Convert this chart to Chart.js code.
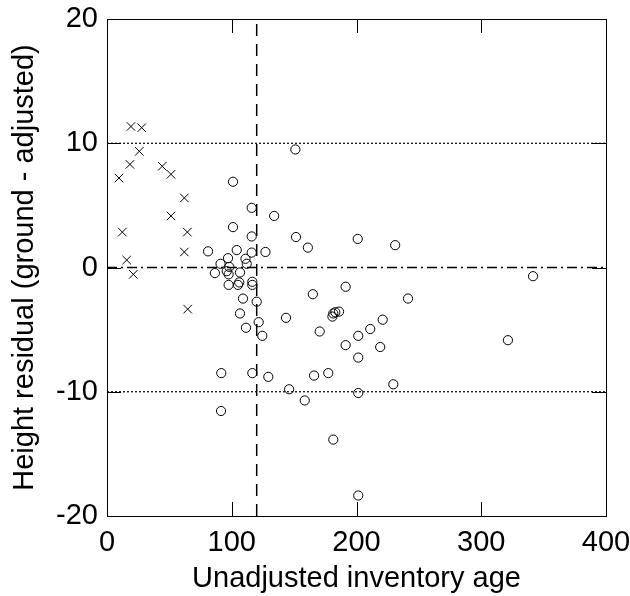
<!DOCTYPE html>
<html>
<head>
<meta charset="utf-8">
<script src="https://cdn.jsdelivr.net/npm/chart.js@4/dist/chart.umd.min.js"></script>
<style>
  html, body { margin: 0; padding: 0; background: #fff; }
  #wrap { width: 630px; height: 596px; }
</style>
</head>
<body>
<div id="wrap"><canvas id="myChart" width="630" height="596"></canvas></div>
<script>
// unadjusted inventory age vs height residual, circles
var circAge = [101, 116, 134, 101, 116, 151, 151.5, 161, 201, 231,
               81, 104, 116, 127, 97, 111, 112, 91, 98, 86.5,
               96, 97.5, 106.6, 106, 97.5, 105, 116.5, 116.5, 109, 120,
               106.6, 121.6, 111.4, 124.5, 91.6, 116.5, 129.3, 91.4, 146, 158.5,
               166, 143.5, 170.5, 165, 191.3, 181.4, 183, 186, 180.7, 221,
               211, 201.4, 191.3, 219, 201.4, 177.4, 229.5, 201.4, 181.4, 201.4,
               341.5, 241.3, 321.4];
var circResid = [6.9, 4.8, 4.15, 3.25, 2.5, 9.5, 2.45, 1.6, 2.3, 1.8,
                 1.3, 1.4, 1.2, 1.25, 0.75, 0.7, 0.3, 0.3, 0.05, -0.45,
                 -0.3, -0.55, -0.4, -1.2, -1.4, -1.4, -1.15, -1.4, -2.5, -2.75,
                 -3.7, -4.4, -4.85, -5.5, -8.5, -8.5, -8.8, -11.55, -9.8, -10.7,
                 -8.7, -4.05, -5.15, -2.15, -1.55, -3.7, -3.6, -3.55, -3.95, -4.2,
                 -4.95, -5.5, -6.25, -6.4, -7.25, -8.5, -9.4, -10.1, -13.85, -18.35,
                 -0.7, -2.5, -5.85];

// crosses
var crossAge = [19.2, 27.8, 25.9, 18.4, 9.6, 44.3, 51.3, 62, 51.3, 12.3, 64.4, 62, 15.8, 21.1, 64.7];
var crossResid = [11.35, 11.25, 9.35, 8.3, 7.2, 8.15, 7.5, 5.6, 4.15, 2.85, 2.85, 1.25, 0.6, -0.55, -3.35];

var xTicks = [0, 100, 200, 300, 400];
var yTicks = [-20, -10, 0, 10, 20];
var cutoffAge = 120;
var zeroResid = 0;
var bandResid = [10, -10];

var fontFam = "'Liberation Sans', Arial, sans-serif";

function toPoints(xs, ys){
    var pts = [];
    for(i = 0; i < xs.length; i++){
        pts.push({x: xs[i], y: ys[i]});
    }
    return pts;
}

//draws the box round the plot and the inward tick marks
const framePlugin = {
    id: "frame",
    afterDraw(chart){
        const ctx = chart.ctx;
        const a = chart.chartArea;
        const xs = chart.scales.x;
        const ys = chart.scales.y;
        const len = 14;
        ctx.save();
        ctx.strokeStyle = "#000";
        ctx.lineWidth = 1;
        ctx.setLineDash([]);
        ctx.strokeRect(Math.round(a.left) + 0.5, Math.round(a.top) + 0.5,
                       Math.round(a.right - a.left), Math.round(a.bottom - a.top));
        ctx.beginPath();
        xTicks.forEach(v => {
            const px = Math.round(xs.getPixelForValue(v)) + 0.5;
            ctx.moveTo(px, a.bottom); ctx.lineTo(px, a.bottom - len);
            ctx.moveTo(px, a.top); ctx.lineTo(px, a.top + len);
        });
        yTicks.forEach(v => {
            const py = Math.round(ys.getPixelForValue(v)) + 0.5;
            ctx.moveTo(a.left, py); ctx.lineTo(a.left + len, py);
            ctx.moveTo(a.right, py); ctx.lineTo(a.right - len, py);
        });
        ctx.stroke();
        ctx.restore();
    }
};

//stop the label overhang from pushing the plot box in
function noOverhang(s){
    s.paddingTop = 0;
    s.paddingBottom = 0;
    s.paddingLeft = 0;
    s.paddingRight = 0;
}

const chartData = {
    datasets: [{
        label: "adjusted",
        data: toPoints(circAge, circResid),
        pointStyle: "circle",
        pointRadius: 4.6,
        pointBorderWidth: 1,
        borderColor: "#000",
        backgroundColor: "rgba(0,0,0,0)",
        showLine: false
    },
    {
        label: "unadjusted",
        data: toPoints(crossAge, crossResid),
        pointStyle: "crossRot",
        pointRadius: 6,
        pointBorderWidth: 1,
        borderColor: "#000",
        showLine: false
    },
    {
        label: "cutoff",
        data: [{x: cutoffAge, y: yTicks[0]}, {x: cutoffAge, y: yTicks[yTicks.length - 1]}],
        showLine: true,
        borderColor: "#000",
        borderWidth: 1.5,
        borderDash: [12, 8],
        pointRadius: 0
    },
    {
        label: "zero",
        data: [{x: xTicks[0], y: zeroResid}, {x: xTicks[xTicks.length - 1], y: zeroResid}],
        showLine: true,
        borderColor: "#000",
        borderWidth: 1.5,
        borderDash: [10, 4, 2, 4],
        pointRadius: 0
    },
    {
        label: "upper",
        data: [{x: xTicks[0], y: bandResid[0]}, {x: xTicks[xTicks.length - 1], y: bandResid[0]}],
        showLine: true,
        borderColor: "#000",
        borderWidth: 1.2,
        borderDash: [2, 2],
        pointRadius: 0
    },
    {
        label: "lower",
        data: [{x: xTicks[0], y: bandResid[1]}, {x: xTicks[xTicks.length - 1], y: bandResid[1]}],
        showLine: true,
        borderColor: "#000",
        borderWidth: 1.2,
        borderDash: [2, 2],
        pointRadius: 0
    }]
};

const config = {
    type: "scatter",
    data: chartData,
    options: {
        responsive: false,
        animation: false,
        events: [],
        layout: { padding: { top: 19, right: 24, left: 0, bottom: 0 } },
        plugins: { legend: { display: false }, tooltip: { enabled: false } },
        scales: {
            x: {
                type: "linear",
                min: xTicks[0],
                max: xTicks[xTicks.length - 1],
                afterBuildTicks: s => { s.ticks = xTicks.map(v => ({value: v})); },
                afterFit: s => { s.height = 80; noOverhang(s); },
                grid: { display: false, drawTicks: false },
                border: { display: false },
                ticks: { color: "#000", padding: 10, maxRotation: 0, font: { family: fontFam, size: 29 } },
                title: {
                    display: true,
                    text: "Unadjusted inventory age",
                    color: "#000",
                    padding: { top: 0, bottom: 0 },
                    font: { family: fontFam, size: 29 }
                }
            },
            y: {
                type: "linear",
                min: yTicks[0],
                max: yTicks[yTicks.length - 1],
                afterBuildTicks: s => { s.ticks = yTicks.map(v => ({value: v})); },
                afterFit: s => { s.width = 107; noOverhang(s); },
                grid: { display: false, drawTicks: false },
                border: { display: false },
                ticks: { color: "#000", padding: 9, font: { family: fontFam, size: 29 } },
                title: {
                    display: true,
                    text: "Height residual (ground - adjusted)",
                    color: "#000",
                    padding: { top: 8, bottom: 0 },
                    font: { family: fontFam, size: 29 }
                }
            }
        }
    },
    plugins: [framePlugin]
};

var myChart = new Chart(document.getElementById("myChart"), config);
</script>
</body>
</html>
